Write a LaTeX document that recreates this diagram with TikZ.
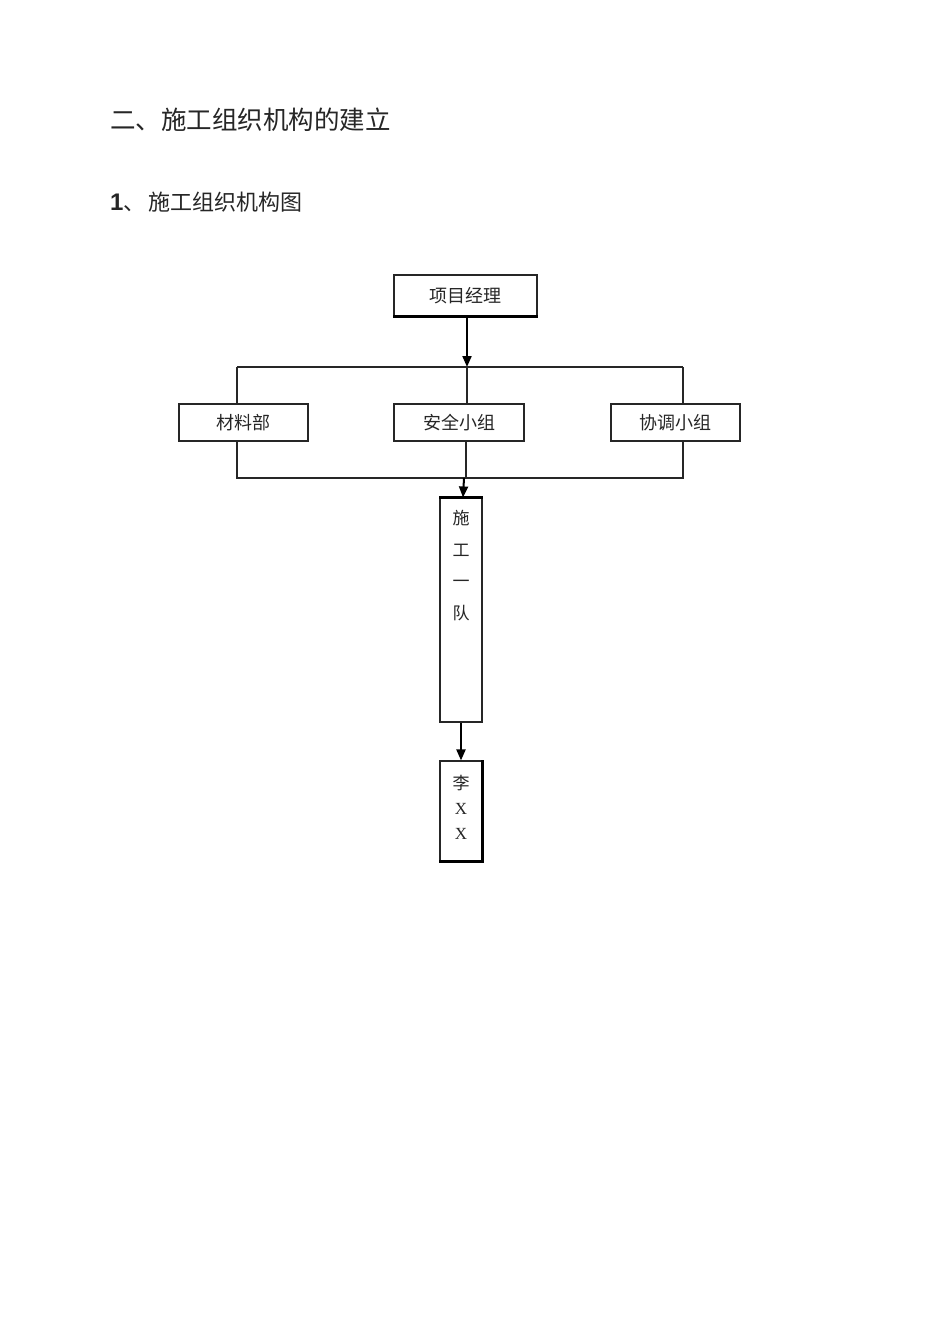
\documentclass[tikz,border=0pt]{standalone}
\usepackage{fontspec}
\usetikzlibrary{arrows.meta}
\setmainfont{Liberation Serif}
\newfontfamily\cjk{Noto Sans CJK SC}
\newfontfamily\arialf{Liberation Sans}
\tikzset{
  boxn/.style={draw=black!85, line width=1.1pt, rectangle, inner sep=0pt, fill=white},
  conn/.style={draw=black!85, line width=1.1pt},
  arr/.style={draw=black, line width=2pt, -{Triangle[length=11pt,width=9pt]}},
  boxtext/.style={font=\cjk\fontsize{18}{20}\selectfont, text=black!85},
}
\begin{document}
\begin{tikzpicture}[x=1pt,y=-1pt]
\useasboundingbox (0,0) rectangle (950,1344);
\fill[white] (0,0) rectangle (950,1344);
% headings
\node[anchor=west, inner sep=0pt, text=black!85, font=\cjk\fontsize{25.5}{28}\selectfont] (title) at (110,120) {二、施工组织机构的建立};
\node[anchor=west, inner sep=0pt, text=black!85] (sub) at (110,202) {{\arialf\bfseries\fontsize{24}{26}\selectfont 1}{\cjk\fontsize{22}{24}\selectfont 、\hspace{3pt}施工组织机构图}};
% boxes
\node[boxn, boxtext, minimum width=143pt, minimum height=41pt] (pm) at (465.5,295.5) {项目经理};
\draw[line width=2.2pt] (pm.south west) -- (pm.south east);
\node[boxn, boxtext, minimum width=129pt, minimum height=37pt] (mat) at (243.5,422.5) {材料部};
\node[boxn, boxtext, minimum width=130pt, minimum height=37pt] (safe) at (459,422.5) {安全小组};
\node[boxn, boxtext, minimum width=129pt, minimum height=37pt] (coord) at (675.5,422.5) {协调小组};
\node[boxn, minimum width=42pt, minimum height=224pt] (team) at (461,610) {};
\draw[line width=2.2pt] (team.north west) -- (team.north east);
\node[anchor=north, inner sep=0pt, align=center, text=black!85, font=\cjk\fontsize{17}{31.5}\selectfont] (teamtext) at ([yshift=-13pt]team.north) {施\\工\\一\\队};
\node[boxn, minimum width=42pt, minimum height=100pt] (li) at (461,811) {};
\draw[line width=2.2pt] (li.south west) -- (li.south east) -- (li.north east);
\node[anchor=north, inner sep=0pt, align=center, text=black!85, font=\fontsize{17}{25}\selectfont] (litext) at ([yshift=-15pt]li.north) {{\cjk 李}\\X\\X};
% bus coordinates
\coordinate (tl) at (237,367);
\coordinate (tr) at (683,367);
\coordinate (tm) at (467,367);
\coordinate (bl) at (237,478);
\coordinate (br) at (683,478);
\coordinate (bm) at (466,478);
% connectors
\draw[arr] (pm.south -| tm) -- (tm);
\draw[conn] (tl) -- (tr);
\draw[conn] (tl) -- (tl |- mat.north);
\draw[conn] (tm) -- (tm |- safe.north);
\draw[conn] (tr) -- (tr |- coord.north);
\draw[conn] (bl |- mat.south) -- (bl) -- (br) -- (br |- coord.south);
\draw[conn] (bm |- safe.south) -- (bm);
\draw[arr] ([xshift=-2pt]bm) -- ([xshift=2pt]team.north);
\draw[arr] (team.south) -- (li.north);
\end{tikzpicture}
\end{document}
